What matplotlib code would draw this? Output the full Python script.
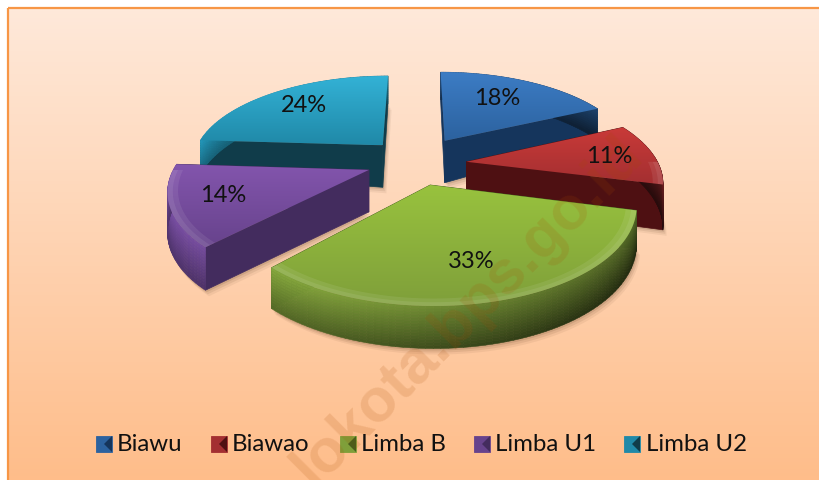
import numpy as np
import matplotlib
matplotlib.use("Agg")
import matplotlib.pyplot as plt
from matplotlib.collections import PolyCollection
from matplotlib.colors import LinearSegmentedColormap, to_rgb
from matplotlib.patches import Polygon, Rectangle

names = ["Biawu", "Biawao", "Limba B", "Limba U1", "Limba U2"]
shares = [18, 11, 33, 14, 24]

top_hi = ["#3C7CC4", "#C93A38", "#98C23E", "#8355AD", "#33B2D6"]
top_lo = ["#2C629F", "#A32F31", "#7F9F3A", "#67438C", "#2089A8"]
wall_cols = ["#15355C", "#4E1012", "#41601F", "#432C5E", "#103C4A"]
draw_order = [4, 0, 3, 1, 2]

legend_box_x = [96, 211, 340, 474, 624]
legend_text_x = [117, 232, 361, 495, 646]
label_nudge = [(-4, 1), (12, 4), (-7, 2), (-6, 2), (2, 0)]
slice_shift = [(3, 1), (0, 5), (0, 2), (3, 2), (2, 3)]
extra_depth = [0, 9, 0, 3, 0]

# projection of the pie plane to image pixels
cx, cy = 415, 160
scale_x, scale_y = 192, 88
persp = 0.187
explode = 0.27
label_r = 0.7


def project(x, y):
    w = 1 / (1 + persp * y)
    return cx + scale_x * x * w, cy - scale_y * y * w


def depth_at(y, r):
    # walls are thicker towards the viewer
    return 42 * (1 - r) + (35 - 6 * y) * r


def gradient_fill(ax, poly, c1, c2, zorder):
    patch = Polygon(poly, closed=True, fc="none", ec="none", zorder=zorder)
    ax.add_patch(patch)
    cmap = LinearSegmentedColormap.from_list("g", [c1, c2])
    ymin, ymax = poly[:, 1].min(), poly[:, 1].max()
    xmin, xmax = poly[:, 0].min(), poly[:, 0].max()
    im = ax.imshow(np.linspace(0, 1, 64)[:, None], cmap=cmap, aspect="auto",
                   extent=(xmin, xmax, ymax, ymin), zorder=zorder, origin="upper")
    im.set_clip_path(patch)


def draw_slice(ax, start, end, color_i, z):
    mid = (start + end) / 2
    ox, oy = explode * np.sin(mid), explode * np.cos(mid)
    th = np.linspace(start, end, 70)
    rx, ry = ox + np.sin(th), oy + np.cos(th)
    sx, sy = project(rx, ry)
    ax0, ay0 = project(ox, oy)
    lx, ly = project(ox + label_r * np.sin(mid), oy + label_r * np.cos(mid))

    shift_x, shift_y = slice_shift[color_i]
    sx, sy = sx + shift_x, sy + shift_y
    ax0, ay0 = ax0 + shift_x, ay0 + shift_y

    top = np.column_stack([np.r_[ax0, sx], np.r_[ay0, sy]])
    apex_d = depth_at(oy, 0)
    rim_d = depth_at(ry, 1) + extra_depth[color_i]
    bottom = np.column_stack([np.r_[ax0, sx], np.r_[ay0 + apex_d, sy + rim_d]])

    # soft shadow
    for off, al in [(6, 0.07), (4, 0.1), (2, 0.14)]:
        ax.add_patch(Polygon(bottom + [off * 0.6, off], closed=True, fc="#5A3A20",
                             ec="none", alpha=al, zorder=z))

    # straight walls
    wall = wall_cols[color_i]
    for k in (1, len(top) - 1):
        quad = np.array([top[0], top[k], bottom[k], bottom[0]])
        ax.add_patch(Polygon(quad, closed=True, fc=wall, ec=wall, lw=0.5, zorder=z + 0.1))

    # rim wall, lit from the left and darker going down
    polys, cols = [], []
    base = np.array(to_rgb(top_lo[color_i]))
    bands = 14
    for i in range(len(th) - 1):
        for j in range(bands):
            f0, f1 = j / bands, (j + 1) / bands
            polys.append([(sx[i], sy[i] + rim_d[i] * f0), (sx[i + 1], sy[i + 1] + rim_d[i + 1] * f0),
                          (sx[i + 1], sy[i + 1] + rim_d[i + 1] * f1), (sx[i], sy[i] + rim_d[i] * f1)])
            side = (sx[i] - 270) / 400
            cols.append(np.clip(base * (1.05 - 0.45 * side - 0.4 * f0), 0, 1))
    ax.add_collection(PolyCollection(polys, facecolors=cols, edgecolors=cols, linewidths=0.4,
                                     zorder=z + 0.2))

    gradient_fill(ax, top, top_hi[color_i], top_lo[color_i], z + 0.3)

    # bevel along the front of the rim
    front = np.cos(th) < 0.0
    if front.sum() > 2:
        for inner, al in [(0.95, 0.08), (0.975, 0.08)]:
            ix, iy = project(ox + inner * np.sin(th[front]), oy + inner * np.cos(th[front]))
            ix, iy = ix + shift_x, iy + shift_y
            band = np.column_stack([np.r_[sx[front], ix[::-1]], np.r_[sy[front], iy[::-1]]])
            ax.add_patch(Polygon(band, closed=True, fc="white", ec="none", alpha=al, zorder=z + 0.4))

    dx, dy = label_nudge[color_i]
    ax.text(lx + dx, ly + dy, f"{shares[color_i]}%", ha="center", va="center", fontsize=17,
            family="Lato", color="#111111", zorder=40)


fig = plt.figure(figsize=(8.19, 4.81), dpi=100)
ax = fig.add_axes([0, 0, 1, 1])
ax.axis("off")

bg = LinearSegmentedColormap.from_list("bg", ["#FEE9DA", "#FFBD8A"])
ax.imshow(np.linspace(0, 1, 128)[:, None], cmap=bg, aspect="auto",
          extent=(8, 819, 481, 8), zorder=0, origin="upper")
ax.add_patch(Rectangle((7.5, 8.5), 900, 600, fc="none", ec="#F79646", lw=1.6, zorder=1))

edges = np.radians(np.r_[0, np.cumsum(shares)] * 3.6)
for z, i in enumerate(draw_order):
    draw_slice(ax, edges[i], edges[i + 1], i, 2 + z)

# legend
for i, name in enumerate(names):
    x0 = legend_box_x[i]
    ax.add_patch(Rectangle((x0, 437), 16, 16, fc=top_lo[i], ec=top_lo[i], lw=0.6, zorder=20))
    ax.add_patch(Polygon([(x0 + 16, 437), (x0 + 16, 453), (x0 + 8, 445)], closed=True,
                         fc=wall_cols[i], ec="none", zorder=21))
    ax.text(legend_text_x[i], 444.5, name, ha="left", va="center", fontsize=17.3,
            family="Lato", color="#111111", zorder=40)

ax.text(634, 146, "lokota.bps.go.id", rotation=45, rotation_mode="anchor",
        ha="right", va="center", fontsize=44, family="Liberation Sans", weight="bold",
        color="#A84A00", alpha=0.15, zorder=30)

ax.set_xlim(0, 819)
ax.set_ylim(481, 0)
fig.savefig("out.png", dpi=100)
